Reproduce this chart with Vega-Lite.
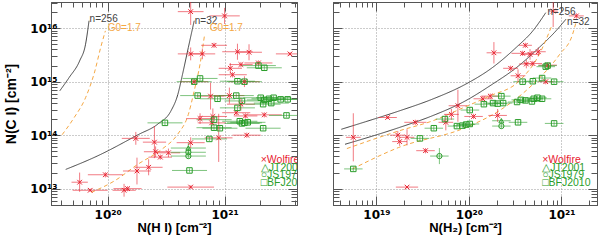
{
"$schema":"https://vega.github.io/schema/vega-lite/v6.json",
"padding":{"left":3,"top":1,"right":0,"bottom":0},
"background":"white",
"bounds":"flush",
"spacing":36,
"config":{"view":{"stroke":"#555"},"text":{"font":"Liberation Sans"}},
"datasets":{
"L":[
{"s":"Wolfire","x":5.13e20,"xlo":3.98e20,"xhi":6.61e20,"y":2.04e16,"ylo":1.15e16,"yhi":3.63e16},
{"s":"Wolfire","x":1.0e21,"xlo":7.41e20,"xhi":1.35e21,"y":1.70e16,"ylo":1.20e16,"yhi":2.40e16},
{"s":"Wolfire","x":8.13e20,"xlo":6.31e20,"xhi":1.05e21,"y":4.79e15,"ylo":4.27e15,"yhi":5.37e15},
{"s":"Wolfire","x":5.13e20,"xlo":3.98e20,"xhi":6.61e20,"y":3.31e15,"ylo":2.51e15,"yhi":4.37e15},
{"s":"Wolfire","x":6.46e20,"xlo":5.01e20,"xhi":8.32e20,"y":3.31e15,"ylo":2.63e15,"yhi":4.17e15},
{"s":"Wolfire","x":1.29e21,"xlo":9.55e20,"xhi":1.74e21,"y":3.63e15,"ylo":2.57e15,"yhi":5.13e15},
{"s":"Wolfire","x":1.62e21,"xlo":1.26e21,"xhi":2.09e21,"y":3.55e15,"ylo":2.51e15,"yhi":5.01e15},
{"s":"Wolfire","x":3.63e21,"xlo":2.75e21,"xhi":4.79e21,"y":3.31e15,"ylo":3.09e15,"yhi":3.55e15},
{"s":"Wolfire","x":1.38e21,"xlo":1.10e21,"xhi":1.74e21,"y":2.09e15,"ylo":1.86e15,"yhi":2.34e15},
{"s":"Wolfire","x":1.12e21,"xlo":8.91e20,"xhi":1.41e21,"y":1.78e15,"ylo":1.41e15,"yhi":2.24e15},
{"s":"Wolfire","x":1.95e21,"xlo":1.48e21,"xhi":2.57e21,"y":2.24e15,"ylo":2.0e15,"yhi":2.51e15},
{"s":"Wolfire","x":1.17e21,"xlo":8.91e20,"xhi":1.55e21,"y":1.35e15,"ylo":1.20e15,"yhi":1.51e15},
{"s":"Wolfire","x":5.50e20,"xlo":4.17e20,"xhi":7.24e20,"y":1.0e15,"ylo":8.91e14,"yhi":1.12e15},
{"s":"Wolfire","x":1.48e21,"xlo":1.10e21,"xhi":2.0e21,"y":1.0e15,"ylo":7.94e14,"yhi":1.26e15},
{"s":"Wolfire","x":1.10e21,"xlo":8.13e20,"xhi":1.48e21,"y":5.50e14,"ylo":3.89e14,"yhi":7.76e14},
{"s":"Wolfire","x":7.59e20,"xlo":5.75e20,"xhi":1.0e21,"y":5.37e14,"ylo":3.02e14,"yhi":9.55e14},
{"s":"Wolfire","x":1.38e21,"xlo":1.05e21,"xhi":1.82e21,"y":3.80e14,"ylo":2.88e14,"yhi":5.01e14},
{"s":"Wolfire","x":1.26e21,"xlo":9.55e20,"xhi":1.66e21,"y":2.63e14,"ylo":2.34e14,"yhi":2.95e14},
{"s":"Wolfire","x":1.51e21,"xlo":1.20e21,"xhi":1.91e21,"y":2.29e14,"ylo":2.04e14,"yhi":2.57e14},
{"s":"Wolfire","x":2.19e21,"xlo":1.55e21,"xhi":3.09e21,"y":2.40e14,"ylo":2.14e14,"yhi":2.69e14},
{"s":"Wolfire","x":6.17e20,"xlo":4.68e20,"xhi":8.13e20,"y":2.04e14,"ylo":1.62e14,"yhi":2.57e14},
{"s":"Wolfire","x":7.94e20,"xlo":6.03e20,"xhi":1.05e21,"y":2.24e14,"ylo":1.58e14,"yhi":3.16e14},
{"s":"Wolfire","x":7.76e20,"xlo":5.89e20,"xhi":1.02e21,"y":1.70e14,"ylo":1.35e14,"yhi":2.14e14},
{"s":"Wolfire","x":5.13e20,"xlo":3.89e20,"xhi":6.76e20,"y":7.24e13,"ylo":5.75e13,"yhi":9.12e13},
{"s":"Wolfire","x":8.91e20,"xlo":6.76e20,"xhi":1.17e21,"y":8.91e13,"ylo":3.16e13,"yhi":2.51e14},
{"s":"Wolfire","x":1.55e21,"xlo":1.17e21,"xhi":2.04e21,"y":1.0e14,"ylo":8.91e13,"yhi":1.12e14},
{"s":"Wolfire","x":1.74e20,"xlo":1.32e20,"xhi":2.29e20,"y":8.71e13,"ylo":6.61e13,"yhi":1.15e14},
{"s":"Wolfire","x":2.51e20,"xlo":2.0e20,"xhi":3.16e20,"y":7.41e13,"ylo":3.72e13,"yhi":1.48e14},
{"s":"Wolfire","x":2.57e20,"xlo":2.04e20,"xhi":3.24e20,"y":4.90e13,"ylo":3.89e13,"yhi":6.17e13},
{"s":"Wolfire","x":2.82e20,"xlo":2.24e20,"xhi":3.55e20,"y":3.89e13,"ylo":3.47e13,"yhi":4.37e13},
{"s":"Wolfire","x":3.31e20,"xlo":2.63e20,"xhi":4.17e20,"y":4.68e13,"ylo":3.89e13,"yhi":5.62e13},
{"s":"Wolfire","x":2.24e20,"xlo":1.70e20,"xhi":2.95e20,"y":2.51e13,"ylo":1.78e13,"yhi":3.55e13},
{"s":"Wolfire","x":1.78e20,"xlo":1.35e20,"xhi":2.34e20,"y":2.14e13,"ylo":1.20e13,"yhi":3.80e13},
{"s":"Wolfire","x":9.55e19,"xlo":6.76e19,"xhi":1.35e20,"y":1.82e13,"ylo":1.62e13,"yhi":2.04e13},
{"s":"Wolfire","x":5.75e19,"xlo":4.90e19,"xhi":6.76e19,"y":1.32e13,"ylo":8.71e12,"yhi":2.0e13},
{"s":"Wolfire","x":7.08e19,"xlo":5.01e19,"xhi":1.0e20,"y":9.33e12,"ylo":8.71e12,"yhi":1.0e13},
{"s":"Wolfire","x":1.38e20,"xlo":1.10e20,"xhi":1.74e20,"y":9.33e12,"ylo":7.08e12,"yhi":1.23e13},
{"s":"Wolfire","x":1.48e20,"xlo":1.12e20,"xhi":1.95e20,"y":1.0e13,"ylo":8.91e12,"yhi":1.12e13},
{"s":"Wolfire","x":5.13e20,"xlo":3.24e20,"xhi":8.13e20,"y":1.07e13,"ylo":1.0e13,"yhi":1.15e13},
{"s":"BFJ2010","x":6.17e20,"xlo":4.37e20,"xhi":8.71e20,"y":1.15e15,"ylo":1.05e15,"yhi":1.26e15},
{"s":"BFJ2010","x":5.50e20,"xlo":3.89e20,"xhi":7.76e20,"y":1.0e15,"ylo":9.12e14,"yhi":1.10e15},
{"s":"BFJ2010","x":1.29e21,"xlo":9.12e20,"xhi":1.82e21,"y":1.02e15,"ylo":9.33e14,"yhi":1.12e15},
{"s":"BFJ2010","x":1.48e21,"xlo":1.05e21,"xhi":2.09e21,"y":1.0e15,"ylo":9.12e14,"yhi":1.10e15},
{"s":"BFJ2010","x":2.19e21,"xlo":1.55e21,"xhi":3.09e21,"y":1.82e15,"ylo":1.66e15,"yhi":2.0e15},
{"s":"BFJ2010","x":1.95e21,"xlo":1.38e21,"xhi":2.75e21,"y":2.0e15,"ylo":1.82e15,"yhi":2.19e15},
{"s":"BFJ2010","x":5.89e20,"xlo":4.17e20,"xhi":8.32e20,"y":5.50e14,"ylo":5.01e14,"yhi":6.03e14},
{"s":"BFJ2010","x":8.71e20,"xlo":6.17e20,"xhi":1.23e21,"y":4.79e14,"ylo":4.37e14,"yhi":5.25e14},
{"s":"BFJ2010","x":1.26e21,"xlo":8.91e20,"xhi":1.78e21,"y":5.50e14,"ylo":5.01e14,"yhi":6.03e14},
{"s":"BFJ2010","x":1.41e21,"xlo":1.0e21,"xhi":2.0e21,"y":4.37e14,"ylo":3.98e14,"yhi":4.79e14},
{"s":"BFJ2010","x":2.04e21,"xlo":1.45e21,"xhi":2.88e21,"y":5.01e14,"ylo":4.57e14,"yhi":5.50e14},
{"s":"BFJ2010","x":2.19e21,"xlo":1.55e21,"xhi":3.09e21,"y":4.57e14,"ylo":4.17e14,"yhi":5.01e14},
{"s":"BFJ2010","x":2.40e21,"xlo":1.70e21,"xhi":3.39e21,"y":4.79e14,"ylo":4.37e14,"yhi":5.25e14},
{"s":"BFJ2010","x":2.63e21,"xlo":1.86e21,"xhi":3.72e21,"y":5.01e14,"ylo":4.57e14,"yhi":5.50e14},
{"s":"BFJ2010","x":3.02e21,"xlo":2.14e21,"xhi":4.27e21,"y":4.68e14,"ylo":4.27e14,"yhi":5.13e14},
{"s":"BFJ2010","x":3.47e21,"xlo":2.45e21,"xhi":4.90e21,"y":4.68e14,"ylo":4.27e14,"yhi":5.13e14},
{"s":"BFJ2010","x":2.14e21,"xlo":1.51e21,"xhi":3.02e21,"y":3.80e14,"ylo":3.47e14,"yhi":4.17e14},
{"s":"BFJ2010","x":2.51e21,"xlo":1.78e21,"xhi":3.55e21,"y":3.98e14,"ylo":3.63e14,"yhi":4.37e14},
{"s":"BFJ2010","x":1.29e21,"xlo":9.12e20,"xhi":1.82e21,"y":3.24e14,"ylo":2.95e14,"yhi":3.55e14},
{"s":"BFJ2010","x":1.35e21,"xlo":9.55e20,"xhi":1.91e21,"y":1.82e14,"ylo":1.66e14,"yhi":2.0e14},
{"s":"BFJ2010","x":1.48e21,"xlo":1.05e21,"xhi":2.09e21,"y":1.70e14,"ylo":1.55e14,"yhi":1.86e14},
{"s":"BFJ2010","x":1.41e21,"xlo":1.0e21,"xhi":2.0e21,"y":1.66e14,"ylo":1.51e14,"yhi":1.82e14},
{"s":"BFJ2010","x":1.58e21,"xlo":1.12e21,"xhi":2.24e21,"y":1.74e14,"ylo":1.58e14,"yhi":1.91e14},
{"s":"BFJ2010","x":3.39e21,"xlo":2.40e21,"xhi":4.79e21,"y":2.34e14,"ylo":2.14e14,"yhi":2.57e14},
{"s":"BFJ2010","x":2.14e21,"xlo":1.51e21,"xhi":3.02e21,"y":1.35e14,"ylo":1.23e14,"yhi":1.48e14},
{"s":"BFJ2010","x":3.09e20,"xlo":2.19e20,"xhi":4.37e20,"y":1.70e14,"ylo":1.55e14,"yhi":1.86e14},
{"s":"BFJ2010","x":8.13e20,"xlo":5.75e20,"xhi":1.15e21,"y":1.95e14,"ylo":1.78e14,"yhi":2.14e14},
{"s":"BFJ2010","x":8.13e20,"xlo":5.75e20,"xhi":1.15e21,"y":1.38e14,"ylo":1.26e14,"yhi":1.51e14},
{"s":"BFJ2010","x":9.12e20,"xlo":6.46e20,"xhi":1.29e21,"y":1.35e14,"ylo":1.23e14,"yhi":1.48e14},
{"s":"BFJ2010","x":7.41e20,"xlo":5.25e20,"xhi":1.05e21,"y":8.51e13,"ylo":7.76e13,"yhi":9.33e13},
{"s":"JT2001","x":4.90e20,"xlo":3.47e20,"xhi":6.92e20,"y":5.75e13,"ylo":4.57e13,"yhi":7.24e13},
{"s":"JS1979","x":4.90e20,"xlo":3.47e20,"xhi":6.92e20,"y":4.79e13,"ylo":4.37e13,"yhi":5.25e13},
{"s":"JS1979","x":4.90e20,"xlo":3.47e20,"xhi":6.92e20,"y":4.07e13,"ylo":3.72e13,"yhi":4.47e13},
{"s":"BFJ2010","x":5.01e20,"xlo":3.55e20,"xhi":7.08e20,"y":2.19e13,"ylo":2.0e13,"yhi":2.40e13}
],
"R":[
{"s":"Wolfire","x":8.13e20,"xlo":7.24e20,"xhi":9.12e20,"y":2.09e16,"ylo":1.05e16,"yhi":4.17e16},
{"s":"Wolfire","x":1.45e21,"xlo":1.20e21,"xhi":1.74e21,"y":1.70e16,"ylo":1.51e16,"yhi":1.91e16},
{"s":"Wolfire","x":1.86e20,"xlo":1.55e20,"xhi":2.24e20,"y":3.47e15,"ylo":2.19e15,"yhi":5.50e15},
{"s":"Wolfire","x":4.07e20,"xlo":3.47e20,"xhi":4.79e20,"y":4.79e15,"ylo":4.27e15,"yhi":5.37e15},
{"s":"Wolfire","x":3.80e20,"xlo":2.88e20,"xhi":5.01e20,"y":3.39e15,"ylo":3.02e15,"yhi":3.80e15},
{"s":"Wolfire","x":4.57e20,"xlo":3.63e20,"xhi":5.75e20,"y":3.24e15,"ylo":2.57e15,"yhi":4.07e15},
{"s":"Wolfire","x":5.62e20,"xlo":4.68e20,"xhi":6.76e20,"y":3.63e15,"ylo":3.02e15,"yhi":4.37e15},
{"s":"Wolfire","x":4.90e20,"xlo":3.89e20,"xhi":6.17e20,"y":2.19e15,"ylo":1.95e15,"yhi":2.45e15},
{"s":"Wolfire","x":4.17e20,"xlo":3.47e20,"xhi":5.01e20,"y":2.14e15,"ylo":1.78e15,"yhi":2.57e15},
{"s":"Wolfire","x":2.82e20,"xlo":2.34e20,"xhi":3.39e20,"y":1.78e15,"ylo":1.58e15,"yhi":2.0e15},
{"s":"Wolfire","x":3.39e20,"xlo":2.82e20,"xhi":4.07e20,"y":1.29e15,"ylo":9.77e14,"yhi":1.70e15},
{"s":"Wolfire","x":7.08e20,"xlo":5.62e20,"xhi":8.91e20,"y":2.04e15,"ylo":1.82e15,"yhi":2.29e15},
{"s":"Wolfire","x":6.76e20,"xlo":5.62e20,"xhi":8.13e20,"y":1.0e15,"ylo":8.91e14,"yhi":1.12e15},
{"s":"Wolfire","x":1.70e20,"xlo":1.35e20,"xhi":2.14e20,"y":5.37e14,"ylo":4.79e14,"yhi":6.03e14},
{"s":"Wolfire","x":1.41e20,"xlo":1.12e20,"xhi":1.78e20,"y":4.79e14,"ylo":4.27e14,"yhi":5.37e14},
{"s":"Wolfire","x":7.59e19,"xlo":6.03e19,"xhi":9.55e19,"y":3.55e14,"ylo":1.78e14,"yhi":7.08e14},
{"s":"Wolfire","x":6.46e19,"xlo":5.37e19,"xhi":7.76e19,"y":2.45e14,"ylo":1.95e14,"yhi":3.09e14},
{"s":"Wolfire","x":5.62e19,"xlo":4.68e19,"xhi":6.76e19,"y":1.74e14,"ylo":1.23e14,"yhi":2.45e14},
{"s":"Wolfire","x":1.12e20,"xlo":8.91e19,"xhi":1.41e20,"y":2.24e14,"ylo":2.0e14,"yhi":2.51e14},
{"s":"Wolfire","x":2.04e20,"xlo":1.62e20,"xhi":2.57e20,"y":2.34e14,"ylo":1.78e14,"yhi":3.09e14},
{"s":"Wolfire","x":1.32e19,"xlo":1.05e19,"xhi":1.66e19,"y":2.14e14,"ylo":2.0e14,"yhi":2.29e14},
{"s":"Wolfire","x":2.63e19,"xlo":2.0e19,"xhi":3.47e19,"y":1.74e14,"ylo":1.55e14,"yhi":1.95e14},
{"s":"Wolfire","x":1.70e19,"xlo":1.41e19,"xhi":2.04e19,"y":1.0e14,"ylo":8.32e13,"yhi":1.20e14},
{"s":"Wolfire","x":1.78e19,"xlo":1.48e19,"xhi":2.14e19,"y":7.59e13,"ylo":6.31e13,"yhi":9.12e13},
{"s":"Wolfire","x":2.14e19,"xlo":1.78e19,"xhi":2.57e19,"y":9.12e13,"ylo":6.46e13,"yhi":1.29e14},
{"s":"Wolfire","x":5.62e18,"xlo":4.68e18,"xhi":6.76e18,"y":9.12e13,"ylo":3.24e13,"yhi":2.57e14},
{"s":"Wolfire","x":3.39e19,"xlo":2.69e19,"xhi":4.27e19,"y":5.13e13,"ylo":4.57e13,"yhi":5.75e13},
{"s":"Wolfire","x":2.14e19,"xlo":1.62e19,"xhi":2.82e19,"y":1.07e13,"ylo":1.02e13,"yhi":1.12e13},
{"s":"BFJ2010","x":5.62e18,"xlo":4.47e18,"xhi":7.08e18,"y":2.34e13,"ylo":2.14e13,"yhi":2.57e13},
{"s":"BFJ2010","x":2.95e19,"xlo":2.34e19,"xhi":3.72e19,"y":8.71e13,"ylo":7.94e13,"yhi":9.55e13},
{"s":"BFJ2010","x":4.17e19,"xlo":3.31e19,"xhi":5.25e19,"y":1.35e14,"ylo":1.23e14,"yhi":1.48e14},
{"s":"JS1979","x":4.79e19,"xlo":3.80e19,"xhi":6.03e19,"y":4.07e13,"ylo":2.88e13,"yhi":5.75e13},
{"s":"BFJ2010","x":5.50e19,"xlo":4.37e19,"xhi":6.92e19,"y":2.0e14,"ylo":1.82e14,"yhi":2.19e14},
{"s":"BFJ2010","x":7.41e19,"xlo":5.89e19,"xhi":9.33e19,"y":1.48e14,"ylo":1.35e14,"yhi":1.62e14},
{"s":"BFJ2010","x":8.51e19,"xlo":6.76e19,"xhi":1.07e20,"y":1.51e14,"ylo":1.38e14,"yhi":1.66e14},
{"s":"BFJ2010","x":9.33e19,"xlo":7.41e19,"xhi":1.17e20,"y":1.58e14,"ylo":1.45e14,"yhi":1.74e14},
{"s":"BFJ2010","x":1.02e20,"xlo":8.13e19,"xhi":1.29e20,"y":1.62e14,"ylo":1.48e14,"yhi":1.78e14},
{"s":"BFJ2010","x":1.02e20,"xlo":8.13e19,"xhi":1.29e20,"y":2.95e14,"ylo":2.69e14,"yhi":3.24e14},
{"s":"BFJ2010","x":1.45e20,"xlo":1.15e20,"xhi":1.82e20,"y":3.80e14,"ylo":3.47e14,"yhi":4.17e14},
{"s":"BFJ2010","x":1.82e20,"xlo":1.45e20,"xhi":2.29e20,"y":3.98e14,"ylo":3.63e14,"yhi":4.37e14},
{"s":"BFJ2010","x":2.04e20,"xlo":1.62e20,"xhi":2.57e20,"y":3.89e14,"ylo":3.55e14,"yhi":4.27e14},
{"s":"BFJ2010","x":2.34e20,"xlo":1.86e20,"xhi":2.95e20,"y":3.98e14,"ylo":3.63e14,"yhi":4.37e14},
{"s":"BFJ2010","x":2.24e20,"xlo":1.78e20,"xhi":2.82e20,"y":5.37e14,"ylo":4.90e14,"yhi":5.89e14},
{"s":"JS1979","x":2.24e20,"xlo":1.78e20,"xhi":2.82e20,"y":1.48e14,"ylo":1.35e14,"yhi":1.62e14},
{"s":"JT2001","x":2.24e20,"xlo":1.78e20,"xhi":2.82e20,"y":1.86e14,"ylo":1.70e14,"yhi":2.04e14},
{"s":"BFJ2010","x":3.31e20,"xlo":2.63e20,"xhi":4.17e20,"y":4.17e14,"ylo":3.80e14,"yhi":4.57e14},
{"s":"BFJ2010","x":3.63e20,"xlo":2.88e20,"xhi":4.57e20,"y":4.57e14,"ylo":4.17e14,"yhi":5.01e14},
{"s":"BFJ2010","x":4.07e20,"xlo":3.24e20,"xhi":5.13e20,"y":4.47e14,"ylo":4.07e14,"yhi":4.90e14},
{"s":"BFJ2010","x":4.79e20,"xlo":3.80e20,"xhi":6.03e20,"y":4.27e14,"ylo":3.89e14,"yhi":4.68e14},
{"s":"BFJ2010","x":5.01e20,"xlo":3.98e20,"xhi":6.31e20,"y":4.79e14,"ylo":4.37e14,"yhi":5.25e14},
{"s":"BFJ2010","x":5.50e20,"xlo":4.37e20,"xhi":6.92e20,"y":5.01e14,"ylo":4.57e14,"yhi":5.50e14},
{"s":"BFJ2010","x":6.17e20,"xlo":4.90e20,"xhi":7.76e20,"y":4.79e14,"ylo":4.37e14,"yhi":5.25e14},
{"s":"BFJ2010","x":3.80e20,"xlo":3.02e20,"xhi":4.79e20,"y":1.0e15,"ylo":9.12e14,"yhi":1.10e15},
{"s":"BFJ2010","x":4.90e20,"xlo":3.89e20,"xhi":6.17e20,"y":1.02e15,"ylo":9.33e14,"yhi":1.12e15},
{"s":"BFJ2010","x":6.17e20,"xlo":4.90e20,"xhi":7.76e20,"y":1.17e15,"ylo":1.07e15,"yhi":1.29e15},
{"s":"BFJ2010","x":8.32e20,"xlo":6.61e20,"xhi":1.05e21,"y":1.0e15,"ylo":9.12e14,"yhi":1.10e15},
{"s":"BFJ2010","x":6.76e20,"xlo":5.37e20,"xhi":8.51e20,"y":1.91e15,"ylo":1.74e15,"yhi":2.09e15},
{"s":"BFJ2010","x":7.08e20,"xlo":5.62e20,"xhi":8.91e20,"y":2.0e15,"ylo":1.82e15,"yhi":2.19e15},
{"s":"BFJ2010","x":3.39e20,"xlo":2.69e20,"xhi":4.27e20,"y":1.74e14,"ylo":1.58e14,"yhi":1.91e14},
{"s":"BFJ2010","x":8.32e20,"xlo":6.61e20,"xhi":1.05e21,"y":1.66e14,"ylo":1.51e14,"yhi":1.82e14}
],
"LC":[
{"c":"a","k":"n","x":3.89e19,"y":6.76e14},{"c":"a","k":"n","x":4.68e19,"y":1.20e15},{"c":"a","k":"n","x":5.75e19,"y":2.45e15},{"c":"a","k":"n","x":6.46e19,"y":5.01e15},{"c":"a","k":"n","x":6.92e19,"y":1.38e16},
{"c":"b","k":"G0","x":4.07e19,"y":1.02e14},{"c":"b","k":"G0","x":5.13e19,"y":2.09e14},{"c":"b","k":"G0","x":6.46e19,"y":5.01e14},{"c":"b","k":"G0","x":7.76e19,"y":1.58e15},{"c":"b","k":"G0","x":8.71e19,"y":4.37e15},{"c":"b","k":"G0","x":9.55e19,"y":8.91e15},
{"c":"c","k":"n","x":4.37e19,"y":2.29e13},{"c":"c","k":"n","x":8.13e19,"y":4.07e13},{"c":"c","k":"n","x":1.82e20,"y":1.02e14},{"c":"c","k":"n","x":2.69e20,"y":1.62e14},{"c":"c","k":"n","x":3.47e20,"y":2.82e14},{"c":"c","k":"n","x":3.98e20,"y":5.75e14},{"c":"c","k":"n","x":4.37e20,"y":1.38e15},{"c":"c","k":"n","x":4.90e20,"y":4.37e15},{"c":"c","k":"n","x":5.50e20,"y":1.38e16},
{"c":"d","k":"G0","x":7.24e19,"y":8.51e12},{"c":"d","k":"G0","x":1.15e20,"y":1.41e13},{"c":"d","k":"G0","x":1.82e20,"y":2.88e13},{"c":"d","k":"G0","x":2.88e20,"y":5.37e13},{"c":"d","k":"G0","x":3.98e20,"y":1.05e14},{"c":"d","k":"G0","x":4.90e20,"y":2.45e14},{"c":"d","k":"G0","x":5.50e20,"y":6.76e14},{"c":"d","k":"G0","x":6.17e20,"y":2.14e15},{"c":"d","k":"G0","x":6.76e20,"y":7.76e15}
],
"RC":[
{"c":"a","k":"n","x":4.17e18,"y":1.29e14},{"c":"a","k":"n","x":7.59e18,"y":1.78e14},{"c":"a","k":"n","x":1.74e19,"y":2.82e14},{"c":"a","k":"n","x":3.98e19,"y":4.68e14},{"c":"a","k":"n","x":9.12e19,"y":8.91e14},{"c":"a","k":"n","x":1.78e20,"y":1.82e15},{"c":"a","k":"n","x":3.24e20,"y":4.37e15},{"c":"a","k":"n","x":4.90e20,"y":8.91e15},{"c":"a","k":"n","x":6.76e20,"y":1.95e16},
{"c":"b","k":"n","x":4.57e18,"y":6.76e13},{"c":"b","k":"n","x":1.74e19,"y":1.38e14},{"c":"b","k":"n","x":3.98e19,"y":2.29e14},{"c":"b","k":"n","x":9.12e19,"y":4.37e14},{"c":"b","k":"n","x":1.78e20,"y":8.91e14},{"c":"b","k":"n","x":3.24e20,"y":1.82e15},{"c":"b","k":"n","x":5.75e20,"y":4.37e15},{"c":"b","k":"n","x":8.71e20,"y":8.91e15},{"c":"b","k":"n","x":1.12e21,"y":1.48e16},
{"c":"c","k":"G0","x":4.79e18,"y":5.62e13},{"c":"c","k":"G0","x":1.74e19,"y":1.20e14},{"c":"c","k":"G0","x":4.07e19,"y":1.86e14},{"c":"c","k":"G0","x":9.12e19,"y":3.39e14},{"c":"c","k":"G0","x":1.66e20,"y":5.37e14},{"c":"c","k":"G0","x":3.47e20,"y":1.02e15},{"c":"c","k":"G0","x":5.75e20,"y":3.24e15},{"c":"c","k":"G0","x":7.94e20,"y":1.17e16},
{"c":"d","k":"G0","x":5.50e18,"y":2.34e13},{"c":"d","k":"G0","x":1.74e19,"y":5.89e13},{"c":"d","k":"G0","x":9.12e19,"y":1.38e14},{"c":"d","k":"G0","x":2.09e20,"y":2.82e14},{"c":"d","k":"G0","x":4.90e20,"y":8.91e14},{"c":"d","k":"G0","x":9.55e20,"y":3.24e15},{"c":"d","k":"G0","x":1.32e21,"y":7.76e15},{"c":"d","k":"G0","x":1.45e21,"y":1.38e16}
],
"LT":[
{"t":"n=256","k":"n","x":7.0e19,"y":1.48e16},
{"t":"G0=1.7","k":"G0","x":1.0e20,"y":1.0e16},
{"t":"n=32","k":"n","x":5.56e20,"y":1.38e16},
{"t":"G0=1.7","k":"G0","x":7.48e20,"y":1.0e16}
],
"RT":[
{"t":"n=256","k":"n","x":7.05e20,"y":2.02e16},
{"t":"n=32","k":"n","x":1.15e21,"y":1.33e16}
],
"LG":[
{"t":"×Wolfire","k":"Wolfire","x":2.04e21,"y":3.45e13},
{"t":"△JT2001","k":"JT2001","x":2.04e21,"y":2.48e13},
{"t":"○JS1979","k":"JS1979","x":2.04e21,"y":1.79e13},
{"t":"□BFJ2010","k":"BFJ2010","x":2.04e21,"y":1.28e13}
],
"RG":[
{"t":"×Wolfire","k":"Wolfire","x":6.18e20,"y":3.45e13},
{"t":"△JT2001","k":"JT2001","x":6.18e20,"y":2.48e13},
{"t":"○JS1979","k":"JS1979","x":6.18e20,"y":1.79e13},
{"t":"□BFJ2010","k":"BFJ2010","x":6.18e20,"y":1.28e13}
]
},
"hconcat":[
{
"width":246,"height":203,
"resolve":{"axis":{"x":"independent","y":"independent"}},
"layer":[
{"data":{"name":"LC"},"mark":{"type":"line","clip":true,"strokeWidth":1,"interpolate":"monotone"},
 "encoding":{
  "x":{"field":"x","type":"quantitative","scale":{"type":"log","domain":[3.27e19,4.17e21],"nice":false},"axis":null},
  "y":{"field":"y","type":"quantitative","scale":{"type":"log","domain":[4.95e12,3.09e16],"nice":false},"axis":null},
  "detail":{"field":"c"},
  "color":{"field":"k","type":"nominal","scale":{"domain":["Wolfire","JT2001","JS1979","BFJ2010","n","G0"],"range":["#e8212f","#2a9d2a","#2a9d2a","#2a9d2a","#444444","#f5a844"]},"legend":null},
  "strokeDash":{"field":"k","type":"nominal","scale":{"domain":["n","G0"],"range":[[1,0],[4,3]]},"legend":null}
 }},
{"data":{"name":"L"},"mark":{"type":"rule","clip":true,"strokeWidth":1,"opacity":0.6},
 "encoding":{
  "x":{"field":"xlo","type":"quantitative","scale":{"type":"log","domain":[3.27e19,4.17e21],"nice":false},
   "axis":{"orient":"bottom","values":[4e19,5e19,6e19,7e19,8e19,9e19,1e20,2e20,3e20,4e20,5e20,6e20,7e20,8e20,9e20,1e21,2e21,3e21,4e21],
    "labelExpr":"datum.value==1e20?'10²⁰':datum.value==1e21?'10²¹':''",
    "tickSize":{"condition":{"test":"abs(log(datum.value)/LN10-round(log(datum.value)/LN10))<0.001","value":-9},"value":-5},
    "grid":true,"gridDash":[1,2],"gridColor":"#999999","gridOpacity":{"condition":{"test":"abs(log(datum.value)/LN10-round(log(datum.value)/LN10))<0.001","value":1},"value":0},
    "labelOverlap":false,"labelFlush":false,"labelPadding":13,"labelFont":"DejaVu Sans","labelFontWeight":"bold",
    "labelFontSize":{"condition":{"test":"abs(log(datum.value)/LN10-round(log(datum.value)/LN10))<0.001","value":12},"value":0},"labelColor":"#000",
    "title":"N(H I) [cm⁻²]","titleFont":"Liberation Sans","titleFontWeight":"bold","titleFontSize":13,"titleColor":"#000","titlePadding":1,
    "domainColor":"#555","tickColor":"#555"}},
  "x2":{"field":"xhi"},
  "y":{"field":"y","type":"quantitative","scale":{"type":"log","domain":[4.95e12,3.09e16],"nice":false},
   "axis":{"orient":"left","values":[5e12,6e12,7e12,8e12,9e12,1e13,2e13,3e13,4e13,5e13,6e13,7e13,8e13,9e13,1e14,2e14,3e14,4e14,5e14,6e14,7e14,8e14,9e14,1e15,2e15,3e15,4e15,5e15,6e15,7e15,8e15,9e15,1e16,2e16,3e16],
    "labelExpr":"datum.value==1e13?'10¹³':datum.value==1e14?'10¹⁴':datum.value==1e15?'10¹⁵':datum.value==1e16?'10¹⁶':''",
    "tickSize":{"condition":{"test":"abs(log(datum.value)/LN10-round(log(datum.value)/LN10))<0.001","value":-9},"value":-6},
    "grid":true,"gridDash":[1,2],"gridColor":"#999999","gridOpacity":{"condition":{"test":"abs(log(datum.value)/LN10-round(log(datum.value)/LN10))<0.001","value":1},"value":0},
    "labelOverlap":false,"labelFlush":false,"labelPadding":3,"labelFont":"DejaVu Sans","labelFontWeight":"bold",
    "labelFontSize":{"condition":{"test":"abs(log(datum.value)/LN10-round(log(datum.value)/LN10))<0.001","value":12},"value":0},"labelColor":"#000",
    "minExtent":30,"maxExtent":30,
    "title":"N(C I) [cm⁻²]","titleFont":"Liberation Sans","titleFontWeight":"bold","titleFontSize":14,"titleColor":"#000","titlePadding":3,
    "domainColor":"#555","tickColor":"#555"}},
  "color":{"field":"s","type":"nominal","scale":{"domain":["Wolfire","JT2001","JS1979","BFJ2010","n","G0"],"range":["#e8212f","#2a9d2a","#2a9d2a","#2a9d2a","#444444","#f5a844"]},"legend":null}
 }},
{"data":{"name":"L"},"mark":{"type":"rule","clip":true,"strokeWidth":1,"opacity":0.6},
 "encoding":{
  "x":{"field":"x","type":"quantitative","scale":{"type":"log","domain":[3.27e19,4.17e21],"nice":false},
   "axis":{"orient":"top","values":[4e19,5e19,6e19,7e19,8e19,9e19,1e20,2e20,3e20,4e20,5e20,6e20,7e20,8e20,9e20,1e21,2e21,3e21,4e21],"labels":false,"title":null,"grid":false,"minExtent":0,"maxExtent":0,
    "tickSize":{"condition":{"test":"abs(log(datum.value)/LN10-round(log(datum.value)/LN10))<0.001","value":-9},"value":-5},"domainColor":"#555","tickColor":"#555"}},
  "y":{"field":"ylo","type":"quantitative","scale":{"type":"log","domain":[4.95e12,3.09e16],"nice":false},
   "axis":{"orient":"right","values":[5e12,6e12,7e12,8e12,9e12,1e13,2e13,3e13,4e13,5e13,6e13,7e13,8e13,9e13,1e14,2e14,3e14,4e14,5e14,6e14,7e14,8e14,9e14,1e15,2e15,3e15,4e15,5e15,6e15,7e15,8e15,9e15,1e16,2e16,3e16],"labels":false,"title":null,"grid":false,"minExtent":0,"maxExtent":0,
    "tickSize":{"condition":{"test":"abs(log(datum.value)/LN10-round(log(datum.value)/LN10))<0.001","value":-9},"value":-6},"domainColor":"#555","tickColor":"#555"}},
  "y2":{"field":"yhi"},
  "color":{"field":"s","type":"nominal","scale":{"domain":["Wolfire","JT2001","JS1979","BFJ2010","n","G0"],"range":["#e8212f","#2a9d2a","#2a9d2a","#2a9d2a","#444444","#f5a844"]},"legend":null}
 }},
{"data":{"name":"L"},"mark":{"type":"point","clip":true,"filled":false,"strokeWidth":1,"opacity":1},
 "encoding":{
  "x":{"field":"x","type":"quantitative","scale":{"type":"log","domain":[3.27e19,4.17e21],"nice":false},"axis":null},
  "y":{"field":"y","type":"quantitative","scale":{"type":"log","domain":[4.95e12,3.09e16],"nice":false},"axis":null},
  "shape":{"field":"s","type":"nominal","scale":{"domain":["Wolfire","JT2001","JS1979","BFJ2010"],"range":["M-1,-1L1,1M-1,1L1,-1","triangle-up","circle","square"]},"legend":null},
  "size":{"field":"s","type":"nominal","scale":{"domain":["Wolfire","JT2001","JS1979","BFJ2010"],"range":[22,30,30,32]},"legend":null},
  "color":{"field":"s","type":"nominal","scale":{"domain":["Wolfire","JT2001","JS1979","BFJ2010","n","G0"],"range":["#e8212f","#2a9d2a","#2a9d2a","#2a9d2a","#444444","#f5a844"]},"legend":null}
 }},
{"data":{"name":"LT"},"mark":{"type":"text","align":"left","baseline":"middle","fontSize":10,"font":"Liberation Sans"},
 "encoding":{
  "x":{"field":"x","type":"quantitative","scale":{"type":"log","domain":[3.27e19,4.17e21],"nice":false},"axis":null},
  "y":{"field":"y","type":"quantitative","scale":{"type":"log","domain":[4.95e12,3.09e16],"nice":false},"axis":null},
  "text":{"field":"t"},
  "color":{"field":"k","type":"nominal","scale":{"domain":["Wolfire","JT2001","JS1979","BFJ2010","n","G0"],"range":["#e8212f","#2a9d2a","#2a9d2a","#2a9d2a","#444444","#f5a844"]},"legend":null}
 }},
{"data":{"name":"LG"},"mark":{"type":"text","align":"left","baseline":"middle","fontSize":10.5,"font":"Liberation Sans","clip":true},
 "encoding":{
  "x":{"field":"x","type":"quantitative","scale":{"type":"log","domain":[3.27e19,4.17e21],"nice":false},"axis":null},
  "y":{"field":"y","type":"quantitative","scale":{"type":"log","domain":[4.95e12,3.09e16],"nice":false},"axis":null},
  "text":{"field":"t"},
  "color":{"field":"k","type":"nominal","scale":{"domain":["Wolfire","JT2001","JS1979","BFJ2010","n","G0"],"range":["#e8212f","#2a9d2a","#2a9d2a","#2a9d2a","#444444","#f5a844"]},"legend":null}
 }}
]
},
{
"width":264,"height":203,
"resolve":{"axis":{"x":"independent","y":"independent"}},
"layer":[
{"data":{"name":"RC"},"mark":{"type":"line","clip":true,"strokeWidth":1,"interpolate":"monotone"},
 "encoding":{
  "x":{"field":"x","type":"quantitative","scale":{"type":"log","domain":[3.39e18,2.42e21],"nice":false},"axis":null},
  "y":{"field":"y","type":"quantitative","scale":{"type":"log","domain":[4.95e12,3.09e16],"nice":false},"axis":null},
  "detail":{"field":"c"},
  "color":{"field":"k","type":"nominal","scale":{"domain":["Wolfire","JT2001","JS1979","BFJ2010","n","G0"],"range":["#e8212f","#2a9d2a","#2a9d2a","#2a9d2a","#444444","#f5a844"]},"legend":null},
  "strokeDash":{"field":"k","type":"nominal","scale":{"domain":["n","G0"],"range":[[1,0],[4,3]]},"legend":null}
 }},
{"data":{"name":"R"},"mark":{"type":"rule","clip":true,"strokeWidth":1,"opacity":0.6},
 "encoding":{
  "x":{"field":"xlo","type":"quantitative","scale":{"type":"log","domain":[3.39e18,2.42e21],"nice":false},
   "axis":{"orient":"bottom","values":[4e18,5e18,6e18,7e18,8e18,9e18,1e19,2e19,3e19,4e19,5e19,6e19,7e19,8e19,9e19,1e20,2e20,3e20,4e20,5e20,6e20,7e20,8e20,9e20,1e21,2e21],
    "labelExpr":"datum.value==1e19?'10¹⁹':datum.value==1e20?'10²⁰':datum.value==1e21?'10²¹':''",
    "tickSize":{"condition":{"test":"abs(log(datum.value)/LN10-round(log(datum.value)/LN10))<0.001","value":-9},"value":-5},
    "grid":true,"gridDash":[1,2],"gridColor":"#999999","gridOpacity":{"condition":{"test":"abs(log(datum.value)/LN10-round(log(datum.value)/LN10))<0.001","value":1},"value":0},
    "labelOverlap":false,"labelFlush":false,"labelPadding":13,"labelFont":"DejaVu Sans","labelFontWeight":"bold",
    "labelFontSize":{"condition":{"test":"abs(log(datum.value)/LN10-round(log(datum.value)/LN10))<0.001","value":12},"value":0},"labelColor":"#000",
    "title":"N(H₂) [cm⁻²]","titleFont":"Liberation Sans","titleFontWeight":"bold","titleFontSize":13,"titleColor":"#000","titlePadding":1,
    "domainColor":"#555","tickColor":"#555"}},
  "x2":{"field":"xhi"},
  "y":{"field":"y","type":"quantitative","scale":{"type":"log","domain":[4.95e12,3.09e16],"nice":false},
   "axis":{"orient":"left","values":[5e12,6e12,7e12,8e12,9e12,1e13,2e13,3e13,4e13,5e13,6e13,7e13,8e13,9e13,1e14,2e14,3e14,4e14,5e14,6e14,7e14,8e14,9e14,1e15,2e15,3e15,4e15,5e15,6e15,7e15,8e15,9e15,1e16,2e16,3e16],
    "labels":false,"title":null,"minExtent":0,"maxExtent":0,
    "tickSize":{"condition":{"test":"abs(log(datum.value)/LN10-round(log(datum.value)/LN10))<0.001","value":-9},"value":-6},
    "grid":true,"gridDash":[1,2],"gridColor":"#999999","gridOpacity":{"condition":{"test":"abs(log(datum.value)/LN10-round(log(datum.value)/LN10))<0.001","value":1},"value":0},
    "domainColor":"#555","tickColor":"#555"}},
  "color":{"field":"s","type":"nominal","scale":{"domain":["Wolfire","JT2001","JS1979","BFJ2010","n","G0"],"range":["#e8212f","#2a9d2a","#2a9d2a","#2a9d2a","#444444","#f5a844"]},"legend":null}
 }},
{"data":{"name":"R"},"mark":{"type":"rule","clip":true,"strokeWidth":1,"opacity":0.6},
 "encoding":{
  "x":{"field":"x","type":"quantitative","scale":{"type":"log","domain":[3.39e18,2.42e21],"nice":false},
   "axis":{"orient":"top","values":[4e18,5e18,6e18,7e18,8e18,9e18,1e19,2e19,3e19,4e19,5e19,6e19,7e19,8e19,9e19,1e20,2e20,3e20,4e20,5e20,6e20,7e20,8e20,9e20,1e21,2e21],"labels":false,"title":null,"grid":false,"minExtent":0,"maxExtent":0,
    "tickSize":{"condition":{"test":"abs(log(datum.value)/LN10-round(log(datum.value)/LN10))<0.001","value":-9},"value":-5},"domainColor":"#555","tickColor":"#555"}},
  "y":{"field":"ylo","type":"quantitative","scale":{"type":"log","domain":[4.95e12,3.09e16],"nice":false},
   "axis":{"orient":"right","values":[5e12,6e12,7e12,8e12,9e12,1e13,2e13,3e13,4e13,5e13,6e13,7e13,8e13,9e13,1e14,2e14,3e14,4e14,5e14,6e14,7e14,8e14,9e14,1e15,2e15,3e15,4e15,5e15,6e15,7e15,8e15,9e15,1e16,2e16,3e16],"labels":false,"title":null,"grid":false,"minExtent":0,"maxExtent":0,
    "tickSize":{"condition":{"test":"abs(log(datum.value)/LN10-round(log(datum.value)/LN10))<0.001","value":-9},"value":-6},"domainColor":"#555","tickColor":"#555"}},
  "y2":{"field":"yhi"},
  "color":{"field":"s","type":"nominal","scale":{"domain":["Wolfire","JT2001","JS1979","BFJ2010","n","G0"],"range":["#e8212f","#2a9d2a","#2a9d2a","#2a9d2a","#444444","#f5a844"]},"legend":null}
 }},
{"data":{"name":"R"},"mark":{"type":"point","clip":true,"filled":false,"strokeWidth":1,"opacity":1},
 "encoding":{
  "x":{"field":"x","type":"quantitative","scale":{"type":"log","domain":[3.39e18,2.42e21],"nice":false},"axis":null},
  "y":{"field":"y","type":"quantitative","scale":{"type":"log","domain":[4.95e12,3.09e16],"nice":false},"axis":null},
  "shape":{"field":"s","type":"nominal","scale":{"domain":["Wolfire","JT2001","JS1979","BFJ2010"],"range":["M-1,-1L1,1M-1,1L1,-1","triangle-up","circle","square"]},"legend":null},
  "size":{"field":"s","type":"nominal","scale":{"domain":["Wolfire","JT2001","JS1979","BFJ2010"],"range":[22,30,30,32]},"legend":null},
  "color":{"field":"s","type":"nominal","scale":{"domain":["Wolfire","JT2001","JS1979","BFJ2010","n","G0"],"range":["#e8212f","#2a9d2a","#2a9d2a","#2a9d2a","#444444","#f5a844"]},"legend":null}
 }},
{"data":{"name":"RT"},"mark":{"type":"text","align":"left","baseline":"middle","fontSize":10,"font":"Liberation Sans"},
 "encoding":{
  "x":{"field":"x","type":"quantitative","scale":{"type":"log","domain":[3.39e18,2.42e21],"nice":false},"axis":null},
  "y":{"field":"y","type":"quantitative","scale":{"type":"log","domain":[4.95e12,3.09e16],"nice":false},"axis":null},
  "text":{"field":"t"},
  "color":{"field":"k","type":"nominal","scale":{"domain":["Wolfire","JT2001","JS1979","BFJ2010","n","G0"],"range":["#e8212f","#2a9d2a","#2a9d2a","#2a9d2a","#444444","#f5a844"]},"legend":null}
 }},
{"data":{"name":"RG"},"mark":{"type":"text","align":"left","baseline":"middle","fontSize":10.5,"font":"Liberation Sans","clip":true},
 "encoding":{
  "x":{"field":"x","type":"quantitative","scale":{"type":"log","domain":[3.39e18,2.42e21],"nice":false},"axis":null},
  "y":{"field":"y","type":"quantitative","scale":{"type":"log","domain":[4.95e12,3.09e16],"nice":false},"axis":null},
  "text":{"field":"t"},
  "color":{"field":"k","type":"nominal","scale":{"domain":["Wolfire","JT2001","JS1979","BFJ2010","n","G0"],"range":["#e8212f","#2a9d2a","#2a9d2a","#2a9d2a","#444444","#f5a844"]},"legend":null}
 }}
]
}
]
}
